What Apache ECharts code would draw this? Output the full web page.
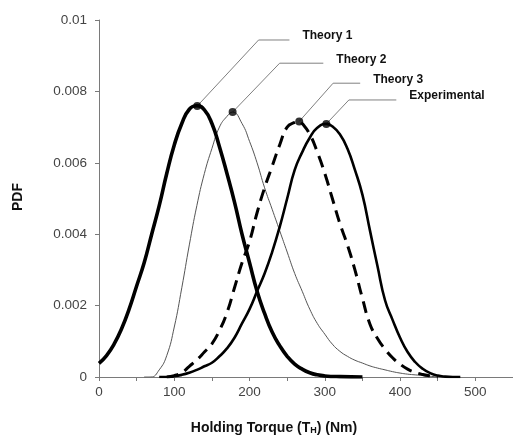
<!DOCTYPE html>
<html>
<head>
<meta charset="utf-8">
<script src="https://cdn.jsdelivr.net/npm/echarts@6/dist/echarts.min.js"></script>
<style>
  html, body { margin: 0; padding: 0; background: #fff; }
  #chart { width: 513px; height: 439px; }
</style>
</head>
<body>
<div id="chart"></div>
<script>
// values (torque in Nm, PDF)
var torqueT1 = [0, 10, 20, 30, 40, 50, 60, 70, 80, 90, 100, 110, 120, 130, 140, 150, 160, 170, 180, 190, 200, 210, 220, 230, 240, 250, 260, 270, 280, 290, 300, 320, 350]
var pdfT1 = [0.00038, 0.0006, 0.00092, 0.00135, 0.0019, 0.00255, 0.0032, 0.004, 0.0048, 0.0057, 0.0065, 0.0071, 0.0075, 0.0076, 0.00748, 0.0071, 0.00645, 0.0057, 0.0049, 0.004, 0.0032, 0.0024, 0.00178, 0.00126, 0.00088, 0.00058, 0.00036, 0.00022, 0.00012, 0.00006, 0.00003, 0.00001, 0]

var torqueT2 = [60, 69, 80, 90, 100, 110, 120, 130, 140, 150, 160, 170, 177.5, 190, 200, 210, 220, 230, 240, 250, 260, 270, 280, 290, 300, 310, 320, 330, 340, 350, 360, 370, 380, 390, 400, 410, 420, 430, 440, 450]
var pdfT2 = [0, 0, 0.0002, 0.0006, 0.0014, 0.0025, 0.0037, 0.0048, 0.0057, 0.0064, 0.007, 0.0073, 0.00742, 0.0071, 0.0066, 0.006, 0.0053, 0.0047, 0.0041, 0.0035, 0.0029, 0.0024, 0.0019, 0.0015, 0.0012, 0.00092, 0.00072, 0.00058, 0.00047, 0.00039, 0.00031, 0.00025, 0.0002, 0.00015, 0.00011, 0.00008, 0.00006, 0.00004, 0.00002, 0]

var torqueT3 = [90, 100, 110, 120, 130, 140, 150, 160, 170, 180, 190, 200, 210, 220, 230, 240, 250, 260, 266, 270, 280, 290, 300, 310, 320, 330, 340, 350, 360, 370, 380, 390, 400, 410, 420, 430, 440, 450]
var pdfT3 = [0, 0.00004, 0.00012, 0.0003, 0.00048, 0.0007, 0.00093, 0.0013, 0.0018, 0.0025, 0.0032, 0.0038, 0.0046, 0.0053, 0.0059, 0.0065, 0.007, 0.00713, 0.00716, 0.0071, 0.0068, 0.0063, 0.0057, 0.005, 0.0043, 0.0037, 0.003, 0.0022, 0.00148, 0.00108, 0.00078, 0.00054, 0.00036, 0.00022, 0.00013, 0.00007, 0.00003, 0]

var torqueExp = [80, 90, 100, 110, 120, 130, 140, 150, 160, 170, 180, 190, 200, 210, 220, 230, 240, 250, 260, 270, 280, 290, 302, 310, 320, 330, 340, 350, 360, 370, 380, 390, 400, 410, 420, 430, 440, 450, 460, 470, 480]
var pdfExp = [0, 0, 0.00002, 0.00006, 0.00012, 0.0002, 0.0003, 0.0004, 0.00058, 0.0008, 0.0011, 0.0015, 0.0019, 0.0024, 0.0029, 0.0035, 0.0042, 0.005, 0.0058, 0.0063, 0.0067, 0.00698, 0.00709, 0.00702, 0.0068, 0.0064, 0.0058, 0.0051, 0.0041, 0.0031, 0.00215, 0.0016, 0.0011, 0.0007, 0.00042, 0.00023, 0.00011, 0.00004, 0.00001, 0, 0]

// peak markers and label leader lines
var peakNames = ['Theory 1', 'Theory 2', 'Theory 3', 'Experimental']
var peakTorque = [130.5, 177.5, 266, 302]
var peakPdf = [0.00759, 0.00742, 0.00716, 0.00709]
var leaderCornerTorque = [212, 240, 311, 332]
var leaderEndTorque = [253, 298, 347, 395]
var leaderPdf = [0.00944, 0.00879, 0.00823, 0.00776]

var xTicks = { min: 0, max: 550, interval: 50 }
var yTicks = { min: 0, max: 0.01, interval: 0.002 }

function pairs(xs, ys) {
  return xs.map(function(x, i) { return [x, ys[i]] })
}

var font = 'Liberation Sans, Arial, sans-serif'
var chart = echarts.init(document.getElementById('chart'))

var series = []
peakNames.forEach(function(name, i) {
  series.push({
    name: name,
    type: 'line',
    silent: true,
    symbol: 'none',
    data: [
      [peakTorque[i], peakPdf[i]],
      [leaderCornerTorque[i], leaderPdf[i]],
      [leaderEndTorque[i], leaderPdf[i]]
    ],
    lineStyle: { color: '#808080', width: 1 },
    endLabel: {
      show: true,
      formatter: name,
      color: '#111',
      fontFamily: font,
      fontWeight: 'bold',
      fontSize: 12,
      distance: 13,
      offset: [0, -4]
    },
    z: 1
  })
})

function curve(xs, ys, style, z) {
  return {
    type: 'line',
    symbol: 'none',
    smooth: 0.5,
    data: pairs(xs, ys),
    lineStyle: style,
    z: z
  }
}

series.push(curve(torqueT2, pdfT2, { color: '#555', width: 1 }, 2))
series.push(curve(torqueT3, pdfT3, { color: '#000', width: 3, type: [12, 7] }, 3))
series.push(curve(torqueExp, pdfExp, { color: '#000', width: 2.6 }, 3))
series.push(curve(torqueT1, pdfT1, { color: '#000', width: 3.6 }, 3))
series.push({
  type: 'scatter',
  symbolSize: 8,
  data: pairs(peakTorque, peakPdf),
  itemStyle: { color: '#000' },
  z: 5
})

chart.setOption({
  animation: false,
  backgroundColor: '#fff',
  grid: { left: 99, right: -8, top: 20, bottom: 62 },
  xAxis: {
    type: 'value',
    min: xTicks.min,
    max: xTicks.max,
    interval: xTicks.interval,
    splitLine: { show: false },
    axisLine: { lineStyle: { color: '#7a7a7a', width: 1 } },
    axisTick: { length: 4, lineStyle: { color: '#7a7a7a' } },
    axisLabel: {
      color: '#444',
      fontFamily: font,
      fontSize: 13.5,
      margin: 8,
      showMaxLabel: false,
      formatter: function(v) { return v % 100 === 0 ? String(v) : '' }
    }
  },
  yAxis: {
    type: 'value',
    min: yTicks.min,
    max: yTicks.max,
    interval: yTicks.interval,
    splitLine: { show: false },
    axisLine: { show: true, lineStyle: { color: '#7a7a7a', width: 1 } },
    axisTick: { show: true, length: 4, lineStyle: { color: '#7a7a7a' } },
    axisLabel: {
      color: '#444',
      fontFamily: font,
      fontSize: 13.5,
      margin: 12,
      formatter: function(v) { return String(+v.toFixed(3)) }
    }
  },
  graphic: [
    {
      type: 'text',
      x: 18,
      y: 197,
      rotation: Math.PI / 2,
      style: {
        text: 'PDF',
        fill: '#111',
        font: 'bold 14px ' + font,
        align: 'center',
        verticalAlign: 'middle'
      }
    },
    {
      type: 'text',
      x: 274,
      y: 428,
      style: {
        text: 'Holding Torque (T{sub|H}) (Nm)',
        fill: '#111',
        font: 'bold 14px ' + font,
        align: 'center',
        verticalAlign: 'middle',
        rich: {
          sub: { fontSize: 9, fontWeight: 'bold', fontFamily: font, fill: '#111', verticalAlign: 'bottom', padding: [5, 0, 0, 0] }
        }
      }
    }
  ],
  series: series
})
</script>
</body>
</html>
